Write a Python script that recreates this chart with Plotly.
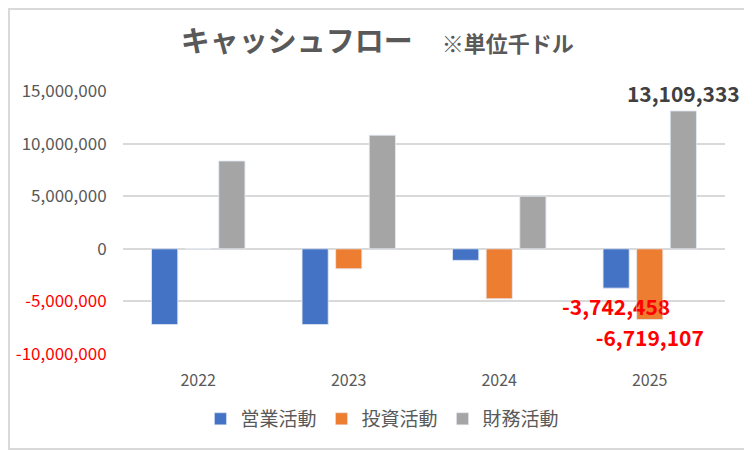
import plotly.graph_objects as go

years = ['2022', '2023', '2024', '2025']
series_names = ['営業活動', '投資活動', '財務活動']
operating = [-7200000, -7200000, -1100000, -3742458]
investing = [0, -1900000, -4750000, -6719107]
financing = [8350000, 10800000, 5000000, 13109333]
colors = ['#4472C4', '#ED7D31', '#A5A5A5']
label_colors = ['#FF0000', '#FF0000', '#404040']
labelled_year = '2025'

tick_vals = [15000000, 10000000, 5000000, 0, -5000000, -10000000]
tick_text = ['15,000,000', '10,000,000', '5,000,000', '0',
             "<span style='color:#FF0000'>-5,000,000</span>",
             "<span style='color:#FF0000'>-10,000,000</span>"]

font_name = 'Noto Sans CJK JP'
all_series = [operating, investing, financing]

fig = go.Figure()
for i, (name, vals, col) in enumerate(zip(series_names, all_series, colors)):
    fig.add_trace(go.Bar(x=years, y=vals, name=name, marker_color=col,
                         offsetgroup=str(i)))

# data labels drawn in a second pass so they sit on top of every bar
for i, (vals, lcol) in enumerate(zip(all_series, label_colors)):
    labels = [f'<b>{v:,}</b>' if yr == labelled_year else '' for yr, v in zip(years, vals)]
    fig.add_trace(go.Bar(x=years, y=vals, offsetgroup=str(i), showlegend=False,
                         marker_color='rgba(0,0,0,0)', hoverinfo='skip',
                         text=labels, textposition='outside', cliponaxis=False,
                         constraintext='none',
                         textfont=dict(family=font_name, size=21, color=lcol)))

fig.update_layout(
    width=752, height=452,
    margin=dict(l=115, r=35, t=83, b=106),
    paper_bgcolor='white', plot_bgcolor='white',
    font=dict(family=font_name, size=16, color='#595959'),
    title=dict(text="<b>キャッシュフロー</b>　<span style='font-size:22px'><b>※単位千ドル</b></span>",
               x=0.491, xanchor='center', y=0.925, yanchor='middle',
               font=dict(family=font_name, size=29, color='#595959')),
    barmode='group', bargap=0.33, bargroupgap=0.22,
    legend=dict(orientation='h', x=0.431, xanchor='center', y=-0.247, yanchor='middle',
                font=dict(family=font_name, size=19, color='#595959')),
    shapes=[dict(type='rect', xref='paper', yref='paper',
                 x0=-114/602, x1=626/602, y0=-95/263, y1=1 + 82/263,
                 line=dict(color='#D9D9D9', width=2), fillcolor='rgba(0,0,0,0)')],
)
fig.update_xaxes(type='category', automargin=False, showgrid=False,
                 ticks='outside', ticklen=12, tickcolor='rgba(0,0,0,0)',
                 tickfont=dict(size=16, color='#595959'))
fig.update_yaxes(range=[-10000000, 15000000], tickvals=tick_vals, ticktext=tick_text,
                 automargin=False, gridcolor='#D9D9D9', zerolinecolor='#D9D9D9',
                 gridwidth=1.5, zerolinewidth=1.5,
                 ticks='outside', ticklen=12, tickcolor='rgba(0,0,0,0)',
                 tickfont=dict(size=17, color='#595959'))

fig.write_html('out.html')
